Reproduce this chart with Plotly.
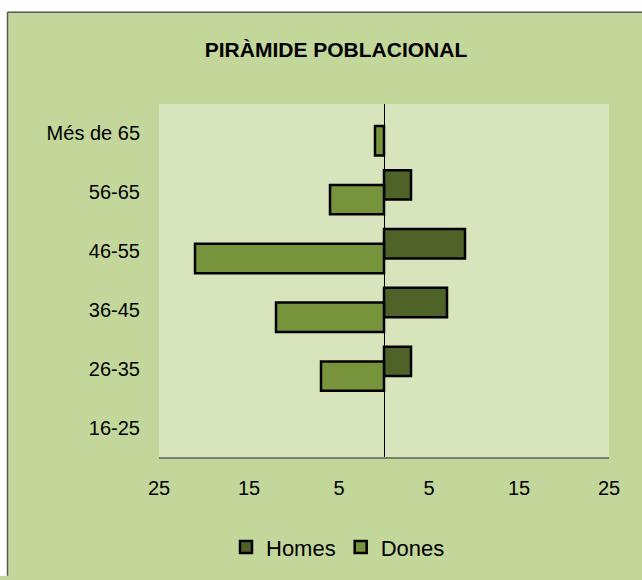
import plotly.graph_objects as go

# -------------------------------
# Dades
# -------------------------------
ages = ["16-25", "26-35", "36-45", "46-55", "56-65", "Més de 65"]
homes = [0, 3, 7, 9, 3, 0]
dones = [0, 7, 12, 21, 6, 1]

tick_vals = [-25, -15, -5, 5, 15, 25]
tick_text = ["25", "15", "5", "5", "15", "25"]

# colors
bg_chart = "#c4d79b"
bg_plot = "#d8e4bc"
col_homes = "#4f6228"
col_dones = "#77933c"
font_family = "Arial, Liberation Sans, sans-serif"

fig = go.Figure()

fig.add_trace(go.Bar(
    y=ages, x=[v if v else None for v in homes],
    orientation="h", name="Homes",
    width=0.5, offset=-0.125,
    marker=dict(color=col_homes, line=dict(color="black", width=2.5)),
    hovertemplate="%{y}: %{x}<extra>Homes</extra>",
))
fig.add_trace(go.Bar(
    y=ages, x=[-v if v else None for v in dones],
    customdata=dones,
    orientation="h", name="Dones",
    width=0.5, offset=-0.375,
    marker=dict(color=col_dones, line=dict(color="black", width=2.5)),
    hovertemplate="%{y}: %{customdata}<extra>Dones</extra>",
))

W, H = 642, 580
L, R, T, B = 159, 33, 104, 116
pw, ph = W - L - R, H - T - B
def px_x(px): return (px - L) / pw
def px_y(py): return (H - B - py) / ph

# marge blanc a dalt i a l'esquerra + vora grisa
fig.add_shape(type="rect", xref="paper", yref="paper", layer="below",
              x0=px_x(-5), x1=px_x(W + 5), y0=px_y(10), y1=px_y(-5),
              fillcolor="white", line=dict(width=0))
fig.add_shape(type="rect", xref="paper", yref="paper", layer="below",
              x0=px_x(-5), x1=px_x(7), y0=px_y(10), y1=px_y(H + 5),
              fillcolor="white", line=dict(width=0))
fig.add_shape(type="line", xref="paper", yref="paper",
              x0=px_x(7.5), x1=px_x(W + 5), y0=px_y(10.5), y1=px_y(10.5),
              line=dict(color="#595959", width=1.5))
fig.add_shape(type="line", xref="paper", yref="paper",
              x0=px_x(7.5), x1=px_x(7.5), y0=px_y(10.5), y1=px_y(H + 5),
              line=dict(color="#595959", width=1.5))

fig.update_layout(
    width=W, height=H,
    margin=dict(l=L, r=R, t=T, b=B),
    paper_bgcolor=bg_chart,
    plot_bgcolor=bg_plot,
    barmode="overlay",
    font=dict(family=font_family, size=20, color="black"),
    title=dict(text="<b>PIRÀMIDE POBLACIONAL</b>", x=336 / W, y=1 - 50 / H,
               xanchor="center", yanchor="middle", xref="container", yref="container",
               font=dict(size=21, family=font_family, color="black")),
    xaxis=dict(range=[-25, 25], tickvals=tick_vals, ticktext=tick_text,
               showgrid=False, zeroline=True, zerolinecolor="black", zerolinewidth=1,
               showline=True, linecolor="#7a7f6e", linewidth=2,
               ticks="", ticklabelstandoff=12, tickfont=dict(size=20)),
    yaxis=dict(type="category", categoryorder="array", categoryarray=ages,
               range=[-0.5, 5.5], showgrid=False, zeroline=False, showline=False,
               ticks="", ticklabelstandoff=18, tickfont=dict(size=20)),
    legend=dict(orientation="h", x=px_x(338), y=px_y(556), xanchor="center", yanchor="middle",
                bgcolor="rgba(0,0,0,0)", font=dict(size=22), itemwidth=30,
                traceorder="normal"),
    showlegend=True,
)

# sense marge del body perquè la figura ocupi tota la finestra
fig.write_html("out.html", config={"displayModeBar": False},
               post_script="document.body.style.margin='0px';")
